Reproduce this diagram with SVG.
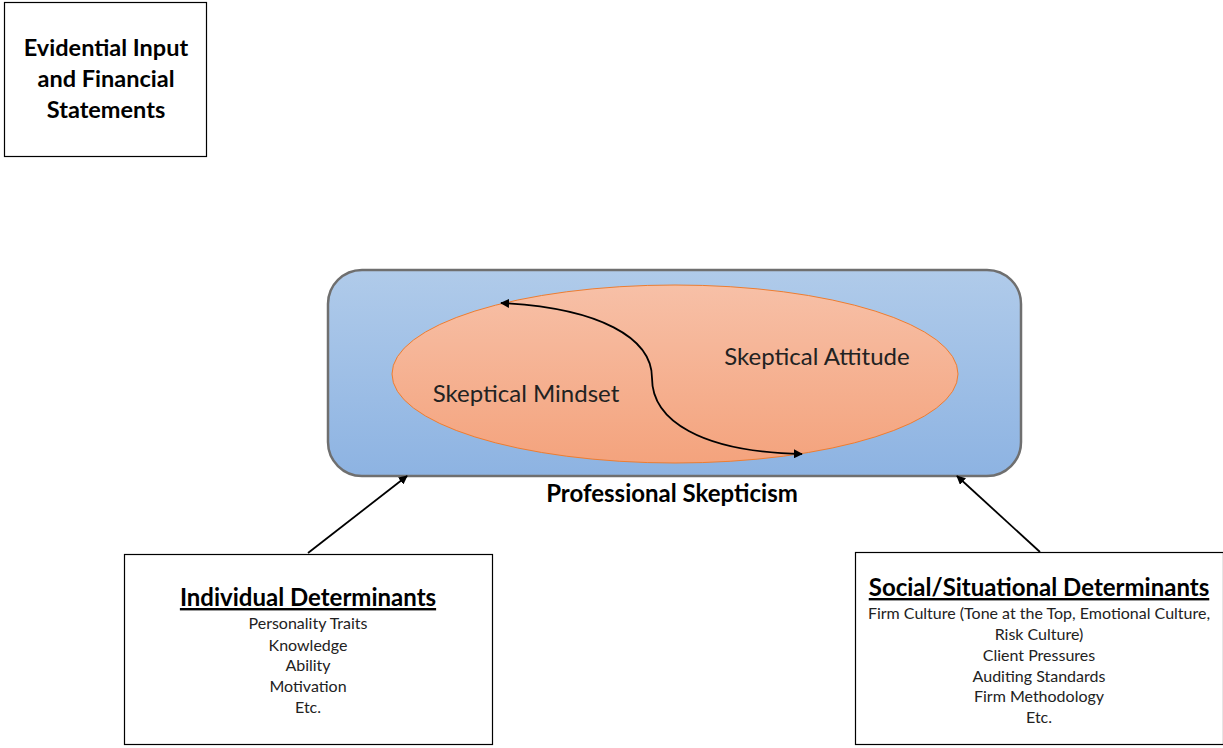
<svg xmlns="http://www.w3.org/2000/svg" width="1223" height="748" viewBox="0 0 1223 748">
  <defs>
    <linearGradient id="blueFill" x1="0" y1="0" x2="0" y2="1">
      <stop offset="0" stop-color="#b0cbea"/>
      <stop offset="1" stop-color="#8db3e2"/>
    </linearGradient>
    <linearGradient id="peachFill" x1="0" y1="0" x2="0" y2="1">
      <stop offset="0" stop-color="#f7c0a7"/>
      <stop offset="1" stop-color="#f4a37d"/>
    </linearGradient>
    <marker id="arrow" viewBox="0 0 10 10" refX="9" refY="5" markerWidth="9" markerHeight="9" markerUnits="userSpaceOnUse" orient="auto-start-reverse">
      <path d="M0,0 L10,5 L0,10 z" fill="#000"/>
    </marker>
  </defs>
  <style>
    text { font-family: Lato, "Open Sans", "Liberation Sans", sans-serif; fill: #000; text-anchor: middle; }
    .box { fill: #fff; stroke: #000; stroke-width: 1.2; }
    .title { font-weight: bold; font-size: 24px; text-decoration: underline; }
    .item { font-size: 16px; fill: #222; }
    .big { font-size: 24px; fill: #222; }
    .bold { font-weight: bold; font-size: 23.5px; }
    .label { font-weight: bold; font-size: 24px; }
    .conn { fill: none; stroke: #000; stroke-width: 1.8; }
  </style>

  <rect width="1223" height="748" fill="#fff"/>

  <g id="evidential-input">
    <rect class="box" x="4.5" y="2.5" width="202" height="154" stroke-width="1.5"/>
    <text class="bold" x="106" y="56">Evidential Input</text>
    <text class="bold" x="106" y="87">and Financial</text>
    <text class="bold" x="106" y="118">Statements</text>
  </g>

  <g id="professional-skepticism">
    <rect x="328" y="270" width="693" height="206" rx="34" ry="34" fill="url(#blueFill)" stroke="#6f6f6f" stroke-width="2.5"/>
    <ellipse cx="675" cy="374" rx="283" ry="89" fill="url(#peachFill)" stroke="#ed7d31" stroke-width="1"/>
    <text class="big" x="526" y="402">Skeptical Mindset</text>
    <text class="big" x="817" y="365">Skeptical Attitude</text>
    <text class="label" x="672" y="502">Professional Skepticism</text>
  </g>

  <g id="individual-determinants">
    <rect class="box" x="124.5" y="554.5" width="368" height="190"/>
    <text class="title" x="308" y="606">Individual Determinants</text>
    <text class="item" x="308" y="629">Personality Traits</text>
    <text class="item" x="308" y="651">Knowledge</text>
    <text class="item" x="308" y="671">Ability</text>
    <text class="item" x="308" y="692">Motivation</text>
    <text class="item" x="308" y="713">Etc.</text>
  </g>

  <g id="social-situational-determinants">
    <rect class="box" x="855.5" y="552.5" width="368" height="192"/>
    <text class="title" x="1039" y="596">Social/Situational Determinants</text>
    <text class="item" x="1039" y="619">Firm Culture (Tone at the Top, Emotional Culture,</text>
    <text class="item" x="1039" y="640">Risk Culture)</text>
    <text class="item" x="1039" y="661">Client Pressures</text>
    <text class="item" x="1039" y="682">Auditing Standards</text>
    <text class="item" x="1039" y="702">Firm Methodology</text>
    <text class="item" x="1039" y="723">Etc.</text>
  </g>

  <g id="connectors">
    <path class="conn" d="M501,303 C600,308 652,338 652,378 C652,420 700,452 802,454" marker-start="url(#arrow)" marker-end="url(#arrow)"/>
    <path class="conn" d="M308,553 L407,476" marker-end="url(#arrow)"/>
    <path class="conn" d="M1040,552 L957,476" marker-end="url(#arrow)"/>
  </g>
</svg>
